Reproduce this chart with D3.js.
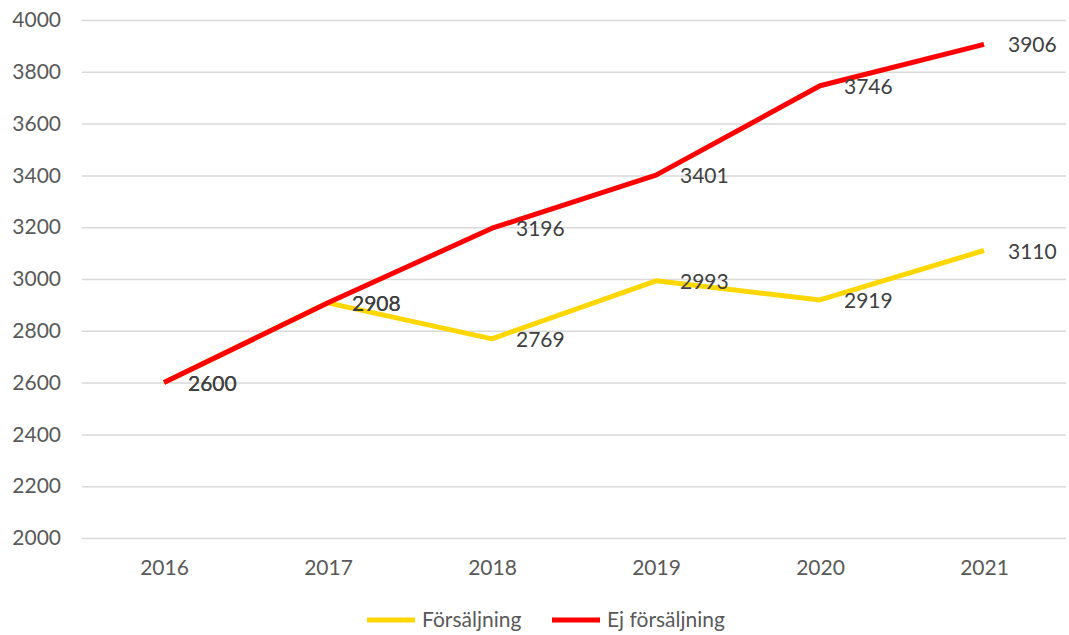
<!DOCTYPE html>
<html><head><meta charset="utf-8">
<script src="https://cdn.jsdelivr.net/npm/d3@7"></script>
<style>body{margin:0;background:#fff}svg{display:block}text{font-family:Lato,"Open Sans",sans-serif}</style>
</head><body>
<svg id="c" width="1069" height="635"></svg>
<script>
const years = ["2016","2017","2018","2019","2020","2021"];
const forsaljning = [2600, 2908, 2769, 2993, 2919, 3110];
const ejForsaljning = [2600, 2908, 3196, 3401, 3746, 3906];
const yTicks = [2000,2200,2400,2600,2800,3000,3200,3400,3600,3800,4000];
const seriesNames = ["Försäljning", "Ej försäljning"];
const seriesColors = ["#FFD700", "#FF0000"];

const svg = d3.select("#c");
const L = 82, R = 1066, T = 20, B = 538;
const x = d3.scalePoint().domain(years).range([L, R]).padding(0.5);
const y = d3.scaleLinear().domain([2000, 4000]).range([B, T]);

const yAxis = svg.append("g").attr("transform", `translate(${L},0)`)
  .call(d3.axisLeft(y).tickValues(yTicks).tickSize(-(R - L)).tickPadding(21).tickFormat(d3.format("d")));
yAxis.select(".domain").remove();
yAxis.selectAll("line").attr("stroke", "#d9d9d9").attr("stroke-width", 1.5);
yAxis.selectAll("text").attr("fill", "#595959").attr("font-size", 21).attr("font-family", "Lato");

const xAxis = svg.append("g").attr("transform", `translate(0,${B})`)
  .call(d3.axisBottom(x).tickSize(0).tickPadding(22));
xAxis.select(".domain").remove();
xAxis.selectAll("text").attr("fill", "#595959").attr("font-size", 21).attr("font-family", "Lato");

const data = [forsaljning, ejForsaljning];
const line = d3.line().x((d, i) => x(years[i])).y(d => y(d));
data.forEach((s, k) => {
  svg.append("path").datum(s).attr("d", line).attr("fill", "none")
    .attr("stroke", seriesColors[k]).attr("stroke-width", 5).attr("stroke-linejoin", "round");
});
data.forEach((s, k) => {
  svg.append("g").selectAll("text").data(s).join("text")
    .attr("x", (d, i) => x(years[i]) + 24)
    .attr("y", (d, i) => y(d) + 8)
    .attr("fill", "#404040").attr("font-size", 21).attr("font-family", "Lato")
    .text(d => d);
});

const leg = svg.append("g");
const legItems = [{x: 367, tx: 422}, {x: 552, tx: 607}];
seriesNames.forEach((n, k) => {
  leg.append("line").attr("x1", legItems[k].x).attr("x2", legItems[k].x + 48)
    .attr("y1", 620).attr("y2", 620).attr("stroke", seriesColors[k]).attr("stroke-width", 5);
  leg.append("text").attr("x", legItems[k].tx).attr("y", 627).attr("fill", "#595959")
    .attr("font-size", 21).attr("font-family", "Lato").text(n);
});
</script>
</body></html>
